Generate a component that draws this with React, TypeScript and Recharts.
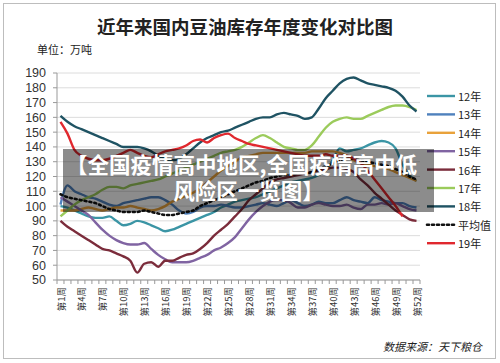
import React from 'react';
import { LineChart, Line, XAxis, YAxis, CartesianGrid } from 'recharts';

const weeks = [
  '第1周', '第2周', '第3周', '第4周', '第5周', '第6周', '第7周', '第8周', '第9周', '第10周',
  '第11周', '第12周', '第13周', '第14周', '第15周', '第16周', '第17周', '第18周', '第19周', '第20周',
  '第21周', '第22周', '第23周', '第24周', '第25周', '第26周', '第27周', '第28周', '第29周', '第30周',
  '第31周', '第32周', '第33周', '第34周', '第35周', '第36周', '第37周', '第38周', '第39周', '第40周',
  '第41周', '第42周', '第43周', '第44周', '第45周', '第46周', '第47周', '第48周', '第49周', '第50周',
  '第51周', '第52周',
];

const y12 = [100, 99, 97, 95, 93, 92, 92, 93, 90, 87, 88, 90, 89, 87, 85, 83, 84, 86, 88, 90, 92, 94, 96, 99, 101, 103, 104, 105, 106, 108, 110, 112, 114, 116, 117, 118, 119, 121, 124, 131, 139, 137, 138, 139, 141, 143, 144, 143, 139, 128, 121, 117];
const y13 = [101, 114, 110, 108, 106, 105, 103, 101, 100, 102, 103, 104, 105, 106, 106, 104, 101, 97, 95, 96, 99, 100, 100, 101, 100, 99, 99, 100, 101, 102, 101, 100, 102, 104, 102, 100, 101, 103, 102, 102, 104, 106, 104, 103, 102, 106, 104, 103, 102, 102, 100, 99];
const y14 = [97, 97, 97, 98, 99, 98, 97, 98, 99, 99, 100, 99, 98, 97, 98, 100, 103, 105, 107, 109, 112, 116, 120, 124, 127, 130, 133, 134, 135, 136, 136, 136, 136, 136, 136, 136, 137, 137, 137, 137, 136, 134, 131, 129, 128, 127, 126, 125, 123, 121, 119, 117];
const y15 = [106, 103, 100, 97, 94, 89, 84, 80, 77, 75, 74, 74, 75, 71, 67, 64, 62, 62, 62, 63, 65, 67, 70, 72, 75, 79, 85, 91, 96, 100, 103, 104, 104, 102, 99, 99, 101, 102, 101, 100, 100, 101, 99, 98, 101, 101, 102, 101, 102, 100, 98, 97];
const y16 = [90, 86, 83, 80, 77, 74, 71, 70, 68, 66, 63, 55, 61, 62, 59, 63, 63, 65, 67, 68, 71, 75, 80, 84, 88, 93, 98, 104, 108, 112, 116, 118, 119, 120, 121, 122, 123, 124, 125, 126, 126, 125, 123, 118, 114, 109, 105, 101, 97, 94, 91, 90];
const y17 = [93, 97, 101, 104, 106, 108, 111, 113, 113, 112, 114, 115, 116, 117, 118, 120, 122, 124, 126, 128, 130, 132, 134, 136, 137, 138, 140, 143, 146, 148, 146, 143, 140, 139, 138, 138, 141, 147, 153, 157, 159, 160, 159, 159, 161, 163, 165, 167, 168, 168, 167, 165];
const y18 = [161, 157, 154, 152, 150, 148, 146, 144, 142, 140, 140, 140, 139, 137, 134, 132, 131, 132, 135, 139, 143, 146, 148, 150, 151, 153, 155, 157, 159, 160, 160, 162, 163, 162, 161, 159, 160, 166, 173, 178, 183, 186, 187, 185, 183, 182, 181, 180, 178, 174, 168, 164];
const yAvg = [108, 106, 105, 104, 103, 102, 100, 98, 97, 96, 96, 96, 97, 96, 95, 94, 94, 95, 96, 97, 100, 102, 104, 106, 108, 110, 112, 114, 116, 117, 119, 120, 121, 121, 122, 122, 123, 125, 127, 129, 131, 132, 132, 131, 130, 129, 128, 127, 125, 123, 120, 118];
const y19 = [157, 149, 138, 134, 132, 131, 131, 132, 134, 136, 138, 136, 134, 133, 135, 137, 138, 139, 141, 144, 145, 143, 146, 148, 149, 146, 144, 142, 141, 140, 139, 138, 137, 136, 135, 134, 134, 134, 135, 134, 134, 134, 132, 129, 124, 118, 112, 106, 100, 93, null, null];

const yTicks = [50, 60, 70, 80, 90, 100, 110, 120, 130, 140, 150, 160, 170, 180, 190];

const series = [
  { key: 'y12', name: '12年', color: '#3B95A5', values: y12 },
  { key: 'y13', name: '13年', color: '#4F81BD', values: y13 },
  { key: 'y14', name: '14年', color: '#E9A23B', values: y14 },
  { key: 'y15', name: '15年', color: '#8064A2', values: y15 },
  { key: 'y16', name: '16年', color: '#7B2C3B', values: y16 },
  { key: 'y17', name: '17年', color: '#9BCB5B', values: y17 },
  { key: 'y18', name: '18年', color: '#1F5363', values: y18 },
  { key: 'avg', name: '平均值', color: '#111111', values: yAvg, dotted: true },
  { key: 'y19', name: '19年', color: '#E0282E', values: y19 },
];

const data = weeks.map((w, i) => {
  const row: Record<string, string | number | null> = { week: w };
  series.forEach((s) => {
    row[s.key] = s.values[i];
  });
  return row;
});

const cjk = '"Noto Sans CJK SC", "Noto Sans", sans-serif';

function WeekTick(props: any) {
  const { x, y, payload } = props;
  const idx = weeks.indexOf(payload.value);
  const axisY = y - 8;
  return (
    <g>
      <line x1={x - 3.5} y1={axisY} x2={x - 3.5} y2={axisY + 4} stroke='#999' />
      {idx === weeks.length - 1 && (
        <line x1={x + 3.5} y1={axisY} x2={x + 3.5} y2={axisY + 4} stroke='#999' />
      )}
      {idx % 3 === 0 && (
        <text
          x={x}
          y={y - 1}
          transform={`rotate(-90, ${x}, ${y - 1})`}
          textAnchor='end'
          dominantBaseline='central'
          fontSize={9.5}
          fill='#333'
          fontFamily={cjk}
        >
          {payload.value}
        </text>
      )}
    </g>
  );
}

export default function App() {
  return (
    <div style={{ position: 'absolute', left: 0, top: 0, width: 500, height: 363, background: '#fff', overflow: 'hidden' }}>
      <LineChart
        width={500}
        height={363}
        data={data}
        margin={{ top: 73, right: 80, bottom: 0, left: 0 }}
      >
        <CartesianGrid vertical={false} stroke='#dcdcdc' />
        <XAxis
          dataKey='week'
          interval={0}
          tick={<WeekTick />}
          tickLine={false}
          tickSize={6}
          tickMargin={2}
          padding={{ left: 3.5, right: 3.5 }}
          axisLine={{ stroke: '#999' }}
          height={83}
        />
        <YAxis
          width={57}
          domain={[50, 190]}
          ticks={yTicks}
          interval={0}
          tick={{ fontSize: 12.5, fill: '#333', fontFamily: '"Liberation Sans", Arial, sans-serif' }}
          tickLine={{ stroke: '#999' }}
          tickSize={4}
          tickMargin={7}
          axisLine={{ stroke: '#999' }}
        />
        {series.map((s) => (
          <Line
            key={s.key}
            type='monotone'
            dataKey={s.key}
            name={s.name}
            stroke={s.color}
            strokeWidth={s.dotted ? 2.6 : 2.4}
            strokeDasharray={s.dotted ? '2 3' : undefined}
            strokeLinecap={s.dotted ? 'round' : 'butt'}
            dot={false}
            connectNulls={false}
            isAnimationActive={false}
          />
        ))}
      </LineChart>

      <svg
        width={500}
        height={363}
        style={{ position: 'absolute', left: 0, top: 0, pointerEvents: 'none' }}
      >
        <rect x={3.5} y={3.5} width={492} height={355} fill='none' stroke='#bdbdbd' />
        <text x={245} y={34} textAnchor='middle' fontSize={18.5} fontWeight='bold' fill='#222' fontFamily={cjk}>
          近年来国内豆油库存年度变化对比图
        </text>
        <text x={37} y={54} fontSize={11} fill='#222' fontFamily={cjk}>
          单位：万吨
        </text>
        {series.map((s, i) => {
          const ly = 96 + i * 18.4;
          return (
            <g key={s.key}>
              <line
                x1={427}
                y1={ly}
                x2={455}
                y2={ly}
                stroke={s.color}
                strokeWidth={s.dotted ? 2.6 : 2.4}
                strokeDasharray={s.dotted ? '2 3' : undefined}
                strokeLinecap={s.dotted ? 'round' : 'butt'}
              />
              <text x={458} y={ly} dominantBaseline='central' fontSize={11} fill='#222' fontFamily={cjk}>
                {s.name}
              </text>
            </g>
          );
        })}
        <text x={383} y={351} fontSize={11} fontStyle='italic' fill='#222' fontFamily={cjk}>
          数据来源：天下粮仓
        </text>
      </svg>

      <div
        style={{
          position: 'absolute',
          left: 63,
          top: 149,
          width: 371,
          height: 63,
          background: 'rgba(0,0,0,0.45)',
          color: '#fff',
          fontFamily: cjk,
          fontWeight: 'bold',
          fontSize: 21.5,
          lineHeight: '26px',
          textAlign: 'center',
          paddingTop: 2,
          boxSizing: 'border-box',
        }}
      >
        <div style={{ whiteSpace: 'nowrap', marginLeft: -14 }}>【全国疫情高中地区,全国疫情高中低</div>
        <div>风险区一览图】</div>
      </div>
    </div>
  );
}
